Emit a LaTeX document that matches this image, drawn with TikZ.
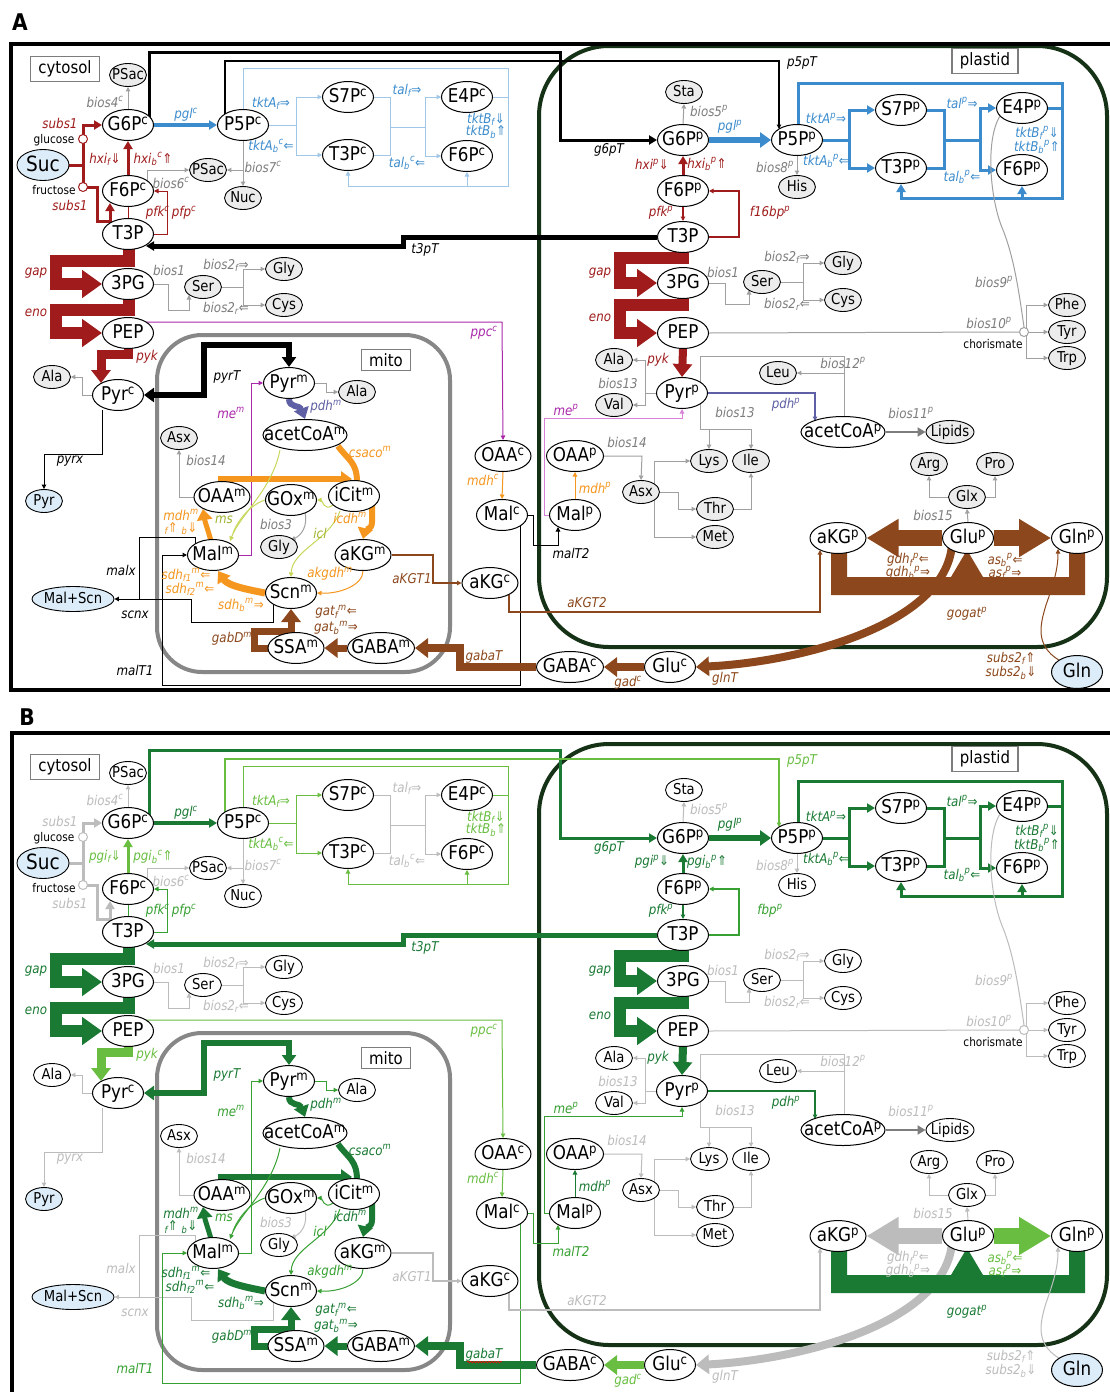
\documentclass[tikz,border=0pt]{standalone}
\usepackage{fontspec}
\setmainfont{DejaVu Sans}[FakeStretch=0.88]
\newfontfamily\arrf{DejaVu Sans}[FakeStretch=0.88]
\usetikzlibrary{arrows.meta,shapes.geometric,decorations.pathmorphing}
\pgfdeclarelayer{back}
\pgfdeclarelayer{bg}
\pgfsetlayers{back,bg,main}
\newcommand\mysup[1]{\textsuperscript{#1}}
\newcommand\mysub[1]{\textsubscript{#1}}
\newcommand\ARr{{\arrf\upshape ⇒}}
\newcommand\ARl{{\arrf\upshape ⇐}}
\newcommand\ARd{{\arrf\upshape ⇓}}
\newcommand\ARu{{\arrf\upshape ⇑}}
\definecolor{red1}{RGB}{160,28,28}
\definecolor{blu1}{RGB}{60,140,205}
\definecolor{blu2}{RGB}{160,198,232}
\definecolor{org}{RGB}{245,150,30}
\definecolor{brn}{RGB}{140,72,28}
\definecolor{pur}{RGB}{170,40,170}
\definecolor{pnk}{RGB}{215,130,215}
\definecolor{slt}{RGB}{95,95,165}
\definecolor{ylg}{RGB}{200,215,90}
\definecolor{ylgd}{RGB}{160,180,50}
\definecolor{gr1}{RGB}{160,160,160}
\definecolor{gr2}{RGB}{125,125,125}
\definecolor{dg}{RGB}{26,122,52}
\definecolor{mg}{RGB}{55,160,50}
\definecolor{lg}{RGB}{105,190,65}
\definecolor{lgr}{RGB}{188,188,188}
\definecolor{plg}{RGB}{22,50,22}
\definecolor{mitog}{RGB}{135,135,135}
\definecolor{extb}{RGB}{220,236,248}
\definecolor{smf}{RGB}{236,236,236}
\tikzset{
 met/.style={ellipse,draw,line width=1pt,fill=white,inner xsep=-40pt,inner ysep=-20pt,
   minimum width=51pt,minimum height=31pt,text height=14pt,text depth=3pt,font=\fontsize{19}{19}\selectfont},
 sm/.style={ellipse,draw,line width=0.9pt,fill=Csm,inner xsep=-30pt,inner ysep=-20pt,
   minimum width=37pt,minimum height=23pt,text height=11pt,text depth=2.5pt,font=\fontsize{15}{15}\selectfont},
 ext/.style={sm,fill=extb},
 cir/.style={circle,draw,line width=1pt,fill=white,inner sep=0pt,minimum size=9pt},
 lab/.style={inner sep=0pt,font=\fontsize{13.5}{13.5}\selectfont\itshape},
 tbox/.style={draw=gr2,line width=1.2pt,fill=white,inner xsep=8pt,inner ysep=4pt,font=\fontsize{17}{17}\selectfont},
 bio/.style={draw=Cbio,line width=1pt},
 tS/.style={-{Triangle[length=4.5pt,width=4.5pt]}},
 tM/.style={-{Triangle[length=8pt,width=9pt]}},
 tT/.style={-{Triangle[length=11pt,width=15pt]}},
 tL/.style={-{Triangle[length=13pt,width=19pt]}},
 tXL/.style={-{Triangle[length=20pt,width=27pt]}},
 tXXL/.style={-{Triangle[length=32pt,width=36pt]}},
}
\newcommand\setA{%
\colorlet{Csubs}{red1}\colorlet{Chxic}{red1}\colorlet{Cpfkc}{red1}\colorlet{Cpglc}{blu1}%
\colorlet{CtktA}{blu2}\colorlet{Ctal}{blu2}\colorlet{CtktB}{blu2}\colorlet{CtktL}{blu1}\colorlet{CtalL}{blu1}%
\colorlet{Cgap}{red1}\colorlet{Cpykc}{red1}\colorlet{Ct3p}{black}\colorlet{Cg6p}{black}\colorlet{Cp5p}{black}%
\colorlet{Cpglp}{blu1}\colorlet{Cppp}{blu1}\colorlet{Chxip}{red1}\colorlet{Cpfkp}{red1}\colorlet{Cfbp}{red1}%
\colorlet{Cpykp}{red1}\colorlet{Cpdhp}{slt}\colorlet{Cmep}{pnk}\colorlet{CmepL}{pur}\colorlet{Cppc}{pur}\colorlet{Cmem}{pur}%
\colorlet{CpyrT}{black}\colorlet{Cpdhm}{slt}\colorlet{Ctca}{org}\colorlet{Cakgdh}{org}\colorlet{Cglyox}{ylg}\colorlet{CglyL}{ylgd}%
\colorlet{CakgT}{brn}\colorlet{Cgad}{brn}\colorlet{Cgaba}{brn}\colorlet{CglnT}{brn}\colorlet{Cgdh}{brn}\colorlet{Cas}{brn}%
\colorlet{Cgogat}{brn}\colorlet{Csubs2}{brn}\colorlet{Cmalx}{black}\colorlet{CmalT}{black}\colorlet{Cmdhc}{org}\colorlet{Cmdhp}{org}%
\colorlet{Calam}{gr1}\colorlet{Cbio}{gr1}\colorlet{Cbl}{gr2}\colorlet{Csm}{smf}%
\def\Lhxif{hxi\mysub{f}\ARd}\def\Lhxib{hxi\mysub{b}\mysup{c}\ARu}%
\def\Lhxip{hxi\mysup{p}\ARd}\def\Lhxipb{hxi\mysub{b}\mysup{p}\ARu}\def\Lfbp{f16bp\mysup{p}}%
\def\extra{}}
\newcommand\setB{%
\colorlet{Csubs}{lgr}\colorlet{Chxic}{lg}\colorlet{Cpfkc}{mg}\colorlet{Cpglc}{dg}%
\colorlet{CtktA}{lg}\colorlet{Ctal}{lgr}\colorlet{CtktB}{lg}\colorlet{CtktL}{lg}\colorlet{CtalL}{lgr}%
\colorlet{Cgap}{dg}\colorlet{Cpykc}{lg}\colorlet{Ct3p}{dg}\colorlet{Cg6p}{dg}\colorlet{Cp5p}{lg}%
\colorlet{Cpglp}{dg}\colorlet{Cppp}{dg}\colorlet{Chxip}{dg}\colorlet{Cpfkp}{dg}\colorlet{Cfbp}{mg}%
\colorlet{Cpykp}{dg}\colorlet{Cpdhp}{dg}\colorlet{Cmep}{mg}\colorlet{CmepL}{mg}\colorlet{Cppc}{lg}\colorlet{Cmem}{mg}%
\colorlet{CpyrT}{dg}\colorlet{Cpdhm}{dg}\colorlet{Ctca}{dg}\colorlet{Cakgdh}{mg}\colorlet{Cglyox}{mg}\colorlet{CglyL}{mg}%
\colorlet{CakgT}{lgr}\colorlet{Cgad}{lg}\colorlet{Cgaba}{dg}\colorlet{CglnT}{lgr}\colorlet{Cgdh}{lgr}\colorlet{Cas}{lg}%
\colorlet{Cgogat}{dg}\colorlet{Csubs2}{lgr}\colorlet{Cmalx}{lgr}\colorlet{CmalT}{mg}\colorlet{Cmdhc}{lg}\colorlet{Cmdhp}{dg}%
\colorlet{Calam}{mg}\colorlet{Cbio}{lgr}\colorlet{Cbl}{lgr}\colorlet{Csm}{white}%
\def\Lhxif{pgi\mysub{f}\ARd}\def\Lhxib{pgi\mysub{b}\mysup{c}\ARu}%
\def\Lhxip{pgi\mysup{p}\ARd}\def\Lhxipb{pgi\mysub{b}\mysup{p}\ARu}\def\Lfbp{fbp\mysup{p}}%
\def\extra{\draw[red,line width=0.6pt,decorate,decoration={snake,amplitude=0.8pt,segment length=3pt}] (467,664) -- (502,664);}}
\newcommand\drawpanel[1]{%
\def\PX{#1}%
\begin{pgfonlayer}{back}
 \draw[line width=4pt,draw=plg,rounded corners=70pt] (539,46) rectangle (1107,647);
 \draw[line width=4pt,draw=mitog,rounded corners=45pt] (157,335) rectangle (450,672);
\end{pgfonlayer}
\node[tbox] (\PX-cyt) at (65,69) {cytosol};
\node[tbox] (\PX-pla) at (985,61) {plastid};
\node[tbox] (\PX-mit) at (386,360) {mito};
% cytosol metabolites
\node[met] (\PX-g6pc) at (128,125) {G6P\mysup{c}};
\node[met] (\PX-f6pc) at (128,191) {F6P\mysup{c}};
\node[met] (\PX-t3pA) at (128,234) {T3P};
\node[ext,minimum width=52pt,minimum height=31pt,text height=15pt,text depth=3pt,font=\fontsize{21}{21}\selectfont] (\PX-suc) at (43,165) {Suc};
\node[met] (\PX-p5pc) at (243,125) {P5P\mysup{c}};
\node[met] (\PX-s7pc) at (348,97) {S7P\mysup{c}};
\node[met] (\PX-t3pc) at (348,155) {T3P\mysup{c}};
\node[met] (\PX-e4pc) at (467,97) {E4P\mysup{c}};
\node[met] (\PX-f6pcb) at (467,156) {F6P\mysup{c}};
\node[met] (\PX-pgc) at (128,284) {3PG};
\node[met] (\PX-pepc) at (128,333) {PEP};
\node[met] (\PX-pyrc) at (118,395) {Pyr\mysup{c}};
\node[sm] (\PX-psa) at (128,75) {PSac};
\node[sm] (\PX-psb) at (208,170) {PSac};
\node[sm] (\PX-nuc) at (243,198) {Nuc};
\node[sm] (\PX-glyc) at (284,269) {Gly};
\node[sm] (\PX-serc) at (203,287) {Ser};
\node[sm] (\PX-cysc) at (284,305) {Cys};
\node[sm] (\PX-alac) at (52,377) {Ala};
\node[ext] (\PX-pyrx) at (44,501) {Pyr};
\node[ext,minimum width=82pt,minimum height=25pt] (\PX-msc) at (73,599) {Mal+Scn};
\node[cir,draw=Csubs] (\PX-cglc) at (83,139) {};
\node[cir,draw=Csubs] (\PX-cfru) at (83,187) {};
% mito
\node[met] (\PX-pyrm) at (289,383) {Pyr\mysup{m}};
\node[sm] (\PX-alam) at (357,392) {Ala};
\node[met,minimum width=84pt] (\PX-acm) at (305,435) {acetCoA\mysup{m}};
\node[sm] (\PX-asxm) at (179,438) {Asx};
\node[met,minimum width=56pt] (\PX-oaam) at (222,497) {OAA\mysup{m}};
\node[met] (\PX-goxm) at (291,500) {GOx\mysup{m}};
\node[met] (\PX-icm) at (354,496) {iCit\mysup{m}};
\node[sm] (\PX-glym) at (279,547) {Gly};
\node[met] (\PX-malm) at (213,555) {Mal\mysup{m}};
\node[met,minimum width=56pt] (\PX-akgm) at (363,555) {aKG\mysup{m}};
\node[met] (\PX-scnm) at (291,593) {Scn\mysup{m}};
\node[met,minimum width=56pt] (\PX-ssam) at (296,648) {SSA\mysup{m}};
\node[met,minimum width=67pt] (\PX-gabam) at (381,648) {GABA\mysup{m}};
% cytosol right
\node[met,minimum width=67pt] (\PX-gabac) at (570,667) {GABA\mysup{c}};
\node[met] (\PX-gluc) at (670,667) {Glu\mysup{c}};
\node[met,minimum width=56pt] (\PX-oaac) at (503,456) {OAA\mysup{c}};
\node[met] (\PX-malc) at (502,515) {Mal\mysup{c}};
\node[met,minimum width=56pt] (\PX-akgc) at (490,583) {aKG\mysup{c}};
% plastid
\node[met,minimum width=57pt] (\PX-oaap) at (575,456) {OAA\mysup{p}};
\node[met] (\PX-malp) at (575,515) {Mal\mysup{p}};
\node[met] (\PX-g6pp) at (683,140) {G6P\mysup{p}};
\node[met] (\PX-p5pp) at (797,140) {P5P\mysup{p}};
\node[met] (\PX-s7pp) at (901,110) {S7P\mysup{p}};
\node[met] (\PX-t3pp) at (901,168) {T3P\mysup{p}};
\node[met] (\PX-e4pp) at (1022,108) {E4P\mysup{p}};
\node[met] (\PX-f6ppb) at (1022,170) {F6P\mysup{p}};
\node[met] (\PX-f6pp) at (683,191) {F6P\mysup{p}};
\node[met] (\PX-t3pB) at (683,237) {T3P};
\node[met] (\PX-pgp) at (683,283) {3PG};
\node[met] (\PX-pepp) at (683,333) {PEP};
\node[met] (\PX-pyrp) at (682,393) {Pyr\mysup{p}};
\node[met,minimum width=84pt] (\PX-acp) at (843,432) {acetCoA\mysup{p}};
\node[met,minimum width=56pt] (\PX-akgp) at (838,538) {aKG\mysup{p}};
\node[met] (\PX-glup) at (968,538) {Glu\mysup{p}};
\node[met] (\PX-glnp) at (1077,538) {Gln\mysup{p}};
\node[met,fill=extb,minimum height=33pt] (\PX-gln) at (1077,672) {Gln};
\node[sm] (\PX-sta) at (684,92) {Sta};
\node[sm] (\PX-his) at (797,187) {His};
\node[sm] (\PX-glyp) at (843,263) {Gly};
\node[sm] (\PX-serp) at (762,282) {Ser};
\node[sm] (\PX-cysp) at (843,300) {Cys};
\node[sm] (\PX-alap) at (614,360) {Ala};
\node[sm] (\PX-valp) at (614,405) {Val};
\node[sm] (\PX-leu) at (778,373) {Leu};
\node[sm,minimum width=48pt] (\PX-lipids) at (950,432) {Lipids};
\node[sm] (\PX-lys) at (709,461) {Lys};
\node[sm] (\PX-ile) at (751,461) {Ile};
\node[sm] (\PX-asxp) at (641,492) {Asx};
\node[sm] (\PX-thr) at (715,509) {Thr};
\node[sm] (\PX-metp) at (715,537) {Met};
\node[sm] (\PX-arg) at (929,464) {Arg};
\node[sm] (\PX-pro) at (995,464) {Pro};
\node[sm] (\PX-glx) at (967,497) {Glx};
\node[sm] (\PX-phe) at (1067,305) {Phe};
\node[sm] (\PX-tyr) at (1067,332) {Tyr};
\node[sm] (\PX-trp) at (1067,358) {Trp};
\node[cir,draw=Cbio] (\PX-chor) at (1024,332) {};
% labels
\node[lab,text=Csubs] (\PX-l1) at (60,123) {subs1};
\node[inner sep=0pt,font=\fontsize{12}{12}\selectfont] (\PX-l2) at (54,140) {glucose};
\node[inner sep=0pt,font=\fontsize{12}{12}\selectfont] (\PX-l3) at (54,190) {fructose};
\node[lab,text=Csubs] (\PX-l4) at (70,205) {subs1};
\node[lab,text=Chxic] (\PX-l5) at (105,159) {\Lhxif};
\node[lab,text=Chxic] (\PX-l6) at (153,159) {\Lhxib};
\node[lab,text=Cbl] (\PX-l7) at (105,102) {bios4\mysup{c}};
\node[lab,text=Cpglc] (\PX-l8) at (186,115) {pgl\mysup{c}};
\node[lab,text=CtktL] (\PX-l9) at (271,103) {tktA\mysub{f}\ARr};
\node[lab,text=CtktL] (\PX-l10) at (271,146) {tktA\mysub{b}\mysup{c}\ARl};
\node[lab,text=Cbl] (\PX-l11) at (263,167) {bios7\mysup{c}};
\node[lab,text=Cbl] (\PX-l12) at (171,183) {bios6\mysup{c}};
\node[lab,text=Cpfkc] (\PX-l13) at (171,213) {pfk\mysup{c}\,pfp\mysup{c}};
\node[lab,text=CtalL] (\PX-l14) at (407,90) {tal\mysub{f}\ARr};
\node[lab,text=CtalL] (\PX-l15) at (407,163) {tal\mysub{b}\mysup{c}\ARl};
\node[lab,text=CtktL] (\PX-l16) at (486,119) {tktB\mysub{f}\ARd};
\node[lab,text=CtktL] (\PX-l17) at (486,132) {tktB\mysub{b}\ARu};
\node[lab,text=Cgap] (\PX-l18) at (36,273) {gap};
\node[lab,text=Cgap] (\PX-l19) at (36,313) {eno};
\node[lab,text=Cbl] (\PX-l20) at (169,270) {bios1};
\node[lab,text=Cbl] (\PX-l21) at (226,265) {bios2\mysub{f}\ARr};
\node[lab,text=Cbl] (\PX-l22) at (226,308) {bios2\mysub{r}\ARl};
\node[lab,text=Cpykc] (\PX-l23) at (147,357) {pyk};
\node[lab,text=Ct3p] (\PX-l24) at (425,250) {t3pT};
\node[lab,text=Cg6p] (\PX-l25) at (609,150) {g6pT};
\node[lab,text=Cp5p] (\PX-l26) at (802,63) {p5pT};
\node[lab,text=Cppc] (\PX-l27) at (484,333) {ppc\mysup{c}};
\node[lab,text=CpyrT] (\PX-l28) at (227,377) {pyrT};
\node[lab,text=Cmem] (\PX-l29) at (231,413) {me\mysup{m}};
\node[lab,text=Cpdhm] (\PX-l30) at (326,407) {pdh\mysup{m}};
\node[lab,text=Ctca] (\PX-l31) at (370,452) {csaco\mysup{m}};
\node[lab,text=Cbl] (\PX-l32) at (206,460) {bios14};
\node[lab,text=Ctca] (\PX-l33) at (181,515) {mdh\mysup{m}};
\node[lab,text=Ctca] (\PX-l34) at (181,529) {\mysub{f}\ARu\ \mysub{b}\ARd};
\node[lab,text=CglyL] (\PX-l35) at (224,520) {ms};
\node[lab,text=Cbl] (\PX-l36) at (276,524) {bios3};
\node[lab,text=Ctca] (\PX-l37) at (350,518) {icdh\mysup{m}};
\node[lab,text=CglyL] (\PX-l38) at (320,533) {icl};
\node[lab,text=Cmalx] (\PX-l39) at (121,570) {malx};
\node[lab,text=Ctca] (\PX-l40) at (186,575) {sdh\mysub{f1}\mysup{m}\ARl};
\node[lab,text=Ctca] (\PX-l41) at (190,589) {sdh\mysub{f2}\mysup{m}\ARl};
\node[lab,text=Cakgdh] (\PX-l42) at (330,574) {akgdh\mysup{m}};
\node[lab,text=Ctca] (\PX-l43) at (241,605) {sdh\mysub{b}\mysup{m}\ARr};
\node[lab,text=Cmalx] (\PX-l44) at (135,615) {scnx};
\node[lab,text=Cgaba] (\PX-l45) at (336,612) {gat\mysub{f}\mysup{m}\ARl};
\node[lab,text=Cgaba] (\PX-l46) at (336,628) {gat\mysub{b}\mysup{m}\ARr};
\node[lab,text=Cgaba] (\PX-l47) at (232,639) {gabD\mysup{m}};
\node[lab,text=Cgaba] (\PX-l48) at (484,657) {gabaT};
\node[lab,text=CmalT] (\PX-l49) at (135,670) {malT1};
\node[lab,text=Cmalx] (\PX-l50) at (70,461) {pyrx};
\node[lab,text=Cmdhc] (\PX-l51) at (483,480) {mdh\mysup{c}};
\node[lab,text=CakgT] (\PX-l52) at (412,579) {aKGT1};
\node[lab,text=CakgT] (\PX-l53) at (587,603) {aKGT2};
\node[lab,text=Cmdhp] (\PX-l54) at (595,488) {mdh\mysup{p}};
\node[lab,text=CmalT] (\PX-l55) at (571,553) {malT2};
\node[lab,text=Cbl] (\PX-l56) at (709,111) {bios5\mysup{p}};
\node[lab,text=Cpglp] (\PX-l57) at (730,127) {pgl\mysup{p}};
\node[lab,text=Chxip] (\PX-l58) at (652,164) {\Lhxip};
\node[lab,text=Chxip] (\PX-l59) at (707,164) {\Lhxipb};
\node[lab,text=Cpfkp] (\PX-l60) at (661,213) {pfk\mysup{p}};
\node[lab,text=Cfbp] (\PX-l61) at (770,213) {\Lfbp};
\node[lab,text=Cbl] (\PX-l62) at (775,167) {bios8\mysup{p}};
\node[lab,text=Cppp] (\PX-l63) at (826,118) {tktA\mysup{p}\ARr};
\node[lab,text=Cppp] (\PX-l64) at (826,161) {tktA\mysub{b}\mysup{p}\ARl};
\node[lab,text=Cppp] (\PX-l65) at (962,103) {tal\mysup{p}\ARr};
\node[lab,text=Cppp] (\PX-l66) at (962,177) {tal\mysub{b}\mysup{p}\ARl};
\node[lab,text=Cppp] (\PX-l67) at (1037,133) {tktB\mysub{f}\mysup{p}\ARd};
\node[lab,text=Cppp] (\PX-l68) at (1037,147) {tktB\mysub{b}\mysup{p}\ARu};
\node[lab,text=Cgap] (\PX-l69) at (600,273) {gap};
\node[lab,text=Cgap] (\PX-l70) at (600,318) {eno};
\node[lab,text=Cbl] (\PX-l71) at (723,272) {bios1};
\node[lab,text=Cbl] (\PX-l72) at (787,257) {bios2\mysub{f}\ARr};
\node[lab,text=Cbl] (\PX-l73) at (787,304) {bios2\mysub{r}\ARl};
\node[lab,text=Cpykp] (\PX-l74) at (658,360) {pyk};
\node[lab,text=Cbl] (\PX-l75) at (618,383) {bios13};
\node[lab,text=Cbl] (\PX-l76) at (735,412) {bios13};
\node[lab,text=CmepL] (\PX-l77) at (566,410) {me\mysup{p}};
\node[lab,text=Cpdhp] (\PX-l78) at (786,405) {pdh\mysup{p}};
\node[lab,text=Cbl] (\PX-l79) at (843,363) {bios12\mysup{p}};
\node[lab,text=Cbl] (\PX-l80) at (911,413) {bios11\mysup{p}};
\node[lab,text=Cbl] (\PX-l81) at (627,442) {bios14};
\node[lab,text=Cbl] (\PX-l82) at (933,515) {bios15};
\node[lab,text=Cbl] (\PX-l83) at (994,282) {bios9\mysup{p}};
\node[lab,text=Cbl] (\PX-l84) at (989,323) {bios10\mysup{p}};
\node[inner sep=0pt,font=\fontsize{12}{12}\selectfont] (\PX-l85) at (993,344) {chorismate};
\node[lab,text=Cgdh] (\PX-l86) at (908,560) {gdh\mysub{f}\mysup{p}\ARl};
\node[lab,text=Cgdh] (\PX-l87) at (908,573) {gdh\mysub{b}\mysup{p}\ARr};
\node[lab,text=Cas] (\PX-l88) at (1005,560) {as\mysub{b}\mysup{p}\ARl};
\node[lab,text=Cas] (\PX-l89) at (1005,573) {as\mysub{f}\mysup{p}\ARr};
\node[lab,text=Cgogat] (\PX-l90) at (967,614) {gogat\mysup{p}};
\node[lab,text=Cgad] (\PX-l91) at (628,683) {gad\mysup{c}};
\node[lab,text=CglnT] (\PX-l92) at (725,679) {glnT};
\node[lab,text=Csubs2] (\PX-l93) at (1011,658) {subs2\mysub{f}\ARu};
\node[lab,text=Csubs2] (\PX-l94) at (1011,673) {subs2\mysub{b}\ARd};
\extra
% edges
\begin{pgfonlayer}{bg}
 % subs1
 \draw[draw=Csubs,line width=3pt] (\PX-suc.east) -- (83,165);
 \draw[draw=Csubs,line width=3pt,tM] (83,187) -- (83,125) -- (\PX-g6pc.west);
 \draw[draw=Csubs,line width=3pt,tM] (83,187) -- (97,187) -- (97,221) -- (110,221) -- (110,203);
 \draw[draw=Chxic,line width=3pt,tM] (\PX-f6pc.north) -- (\PX-g6pc.south);
 \draw[draw=Cpfkc,line width=1pt] (\PX-t3pA.north) -- (\PX-f6pc.south);
 \draw[draw=Cpfkc,line width=1pt,tS] (\PX-t3pA.east) -- (167,234) -- (167,191) -- (\PX-f6pc.east);
 \draw[bio,tS] (\PX-g6pc.north) -- (\PX-psa.south);
 \draw[bio,tS] (147,181) -- (147,170) -- (\PX-psb.west);
 \draw[bio,tS] (\PX-p5pc.south) -- (\PX-nuc.north);
 \draw[bio,tS] (243,170) -- (\PX-psb.east);
 \draw[draw=Cpglc,line width=3.5pt,tM] (\PX-g6pc.east) -- (\PX-p5pc.west);
 % cytosol PPP
 \draw[draw=CtktA,line width=1pt] (\PX-p5pc.east) -- (296,125);
 \draw[draw=CtktA,line width=1pt,tS] (296,125) |- (\PX-s7pc.west);
 \draw[draw=CtktA,line width=1pt,tS] (296,125) |- (\PX-t3pc.west);
 \draw[draw=Ctal,line width=1pt] (\PX-s7pc.east) -| (390,155) -- (\PX-t3pc.east);
 \draw[draw=Ctal,line width=1pt] (390,127) -- (425,127);
 \draw[draw=Ctal,line width=1pt,tS] (425,127) |- (\PX-e4pc.west);
 \draw[draw=Ctal,line width=1pt,tS] (425,127) |- (\PX-f6pcb.west);
 \draw[draw=CtktB,line width=1pt] (\PX-e4pc.east) -- (508,97);
 \draw[draw=CtktB,line width=1pt,tS] (\PX-p5pc.north) -- (243,68) -- (508,68) -- (508,186) -- (348,186) -- (\PX-t3pc.south);
 \draw[draw=CtktB,line width=1pt,tS] (467,186) -- (\PX-f6pcb.south);
 % transporters
 \draw[draw=Cg6p,line width=3pt,tM] (149,120) -- (149,52) -- (560,52) -- (560,140) -- (\PX-g6pp.west);
 \draw[draw=Cp5p,line width=1.2pt,tS] (225,120) -- (225,61) -- (779,61) -- (779,129);
 \draw[draw=Ct3p,line width=5pt,tM] (\PX-t3pB.west) -- (403,237) -- (403,246) -- (146,246);
 % glycolysis
 \draw[draw=Cgap,line width=12pt,tXL] (129,240) -- (129,261) -- (56,261) -- (56,284) -- (\PX-pgc.west);
 \draw[draw=Cgap,line width=12pt,tXL] (129,290) -- (129,310) -- (56,310) -- (56,333) -- (\PX-pepc.west);
 \draw[draw=Cpykc,line width=9pt,tL] (128,340) -- (128,354) -- (101,354) -- (101,383);
 \draw[draw=Cgap,line width=12pt,tXL] (683,243) -- (683,258) -- (620,258) -- (620,283) -- (\PX-pgp.west);
 \draw[draw=Cgap,line width=12pt,tXL] (683,292) -- (683,305) -- (620,305) -- (620,333) -- (\PX-pepp.west);
 \draw[draw=Cpykp,line width=8pt,tL] (\PX-pepp.south) -- (\PX-pyrp.north);
 % bios 1/2
 \draw[bio,tS] (\PX-pgc.east) -- (168,284) -- (168,310) -- (189,310) -- (189,295);
 \draw[bio] (\PX-serc.east) -- (243,287);
 \draw[bio,tS] (243,287) |- (\PX-glyc.west);
 \draw[bio,tS] (243,287) |- (\PX-cysc.west);
 \draw[bio,tS] (\PX-pgp.east) -- (725,283) -- (725,304) -- (749,304) -- (749,290);
 \draw[bio] (\PX-serp.east) -- (803,282);
 \draw[bio,tS] (803,282) |- (\PX-glyp.west);
 \draw[bio,tS] (803,282) |- (\PX-cysp.west);
 \draw[bio,tS] (\PX-pyrc.west) -- (82,395) |- (\PX-alac.east);
 \draw[draw=Cmalx,line width=1pt,tS] (102,410) -- (102,454) -- (44,454) -- (\PX-pyrx.north);
 \draw[draw=Cppc,line width=1pt,tS] (146,322) -- (502,322) -- (\PX-oaac.north);
 % mito
 \draw[draw=CpyrT,line width=6pt,{Triangle[length=10pt,width=14pt]}-{Triangle[length=10pt,width=14pt]}] (\PX-pyrc.east) -- (204,395) -- (204,345) -- (289,345) -- (\PX-pyrm.north);
 \draw[draw=Calam,line width=1pt,tS] (\PX-pyrm.east) -- (326,383) |- (\PX-alam.west);
 \draw[draw=Cmem,line width=1pt,tS] (\PX-malm.east) -- (251,555) -- (251,383) -- (\PX-pyrm.west);
 \draw[draw=Cpdhm,line width=6pt,tT] (\PX-pyrm.south) .. controls (289,408) and (300,405) .. (\PX-acm.north);
 \draw[draw=Ctca,line width=6pt] (338,446) .. controls (348,460) and (357,462) .. (357,482);
 \draw[draw=Ctca,line width=6pt,tT] (221,486) -- (221,479) -- (352,479);
 \draw[draw=Ctca,line width=6pt,tT] (372,505) -- (372,522) .. controls (372,530) and (365,530) .. (\PX-akgm.north);
 \draw[draw=Ctca,line width=7pt,tT] (\PX-scnm.west) .. controls (250,590) and (228,586) .. (218,571);
 \draw[draw=Ctca,line width=5pt,tT] (211,541) .. controls (208,530) and (205,522) .. (203,509);
 \draw[draw=Cakgdh,line width=1pt,tS] (\PX-akgm.south) .. controls (363,585) and (340,594) .. (\PX-scnm.east);
 \draw[draw=Cglyox,line width=1pt,tS] (280,450) .. controls (272,490) and (240,515) .. (230,541);
 \draw[draw=Cglyox,line width=1pt] (\PX-goxm.west) .. controls (250,505) and (238,520) .. (233,533);
 \draw[draw=Cglyox,line width=1pt,tS] (333,505) .. controls (324,512) and (322,500) .. (\PX-goxm.east);
 \draw[draw=Cglyox,line width=1pt,tS] (340,511) .. controls (330,540) and (292,550) .. (\PX-scnm.north);
 \draw[bio,tS] (305,512) .. controls (308,525) and (302,535) .. (291,540);
 \draw[bio,tS] (\PX-oaam.west) -- (179,497) -- (\PX-asxm.south);
 \draw[draw=Cmalx,line width=1pt,tS] (195,544) -- (195,537) -- (139,537) -- (139,599) -- (\PX-msc.east);
 \draw[draw=Cmalx,line width=1pt] (139,599) -- (191,599) -- (191,622) -- (273,622) -- (273,604);
 \draw[draw=CmalT,line width=1pt,tS] (520,526) -- (520,685) -- (162,685) -- (162,555) -- (\PX-malm.west);
 \draw[draw=CmalT,line width=1pt,tS] (\PX-malc.east) -- (533,515) -- (533,545) -- (558,545) -- (558,527);
 \draw[draw=Cmdhc,line width=1pt,tS] (\PX-oaac.south) -- (\PX-malc.north);
 \draw[draw=Cmdhp,line width=1pt,tS] (\PX-malp.north) -- (\PX-oaap.south);
 \draw[draw=Cmep,line width=1pt,tS] (\PX-malp.west) -- (544,515) -- (544,418) -- (682,418) -- (\PX-pyrp.south);
 \draw[draw=CakgT,line width=1.5pt,tS] (\PX-akgm.east) -- (433,555) |- (\PX-akgc.west);
 \draw[draw=CakgT,line width=1.5pt,tS] (509,595) -- (509,612) -- (820,612) -- (820,550);
 % GABA shunt
 \draw[draw=Cgaba,line width=8pt,tL] (\PX-gabac.west) -- (460,667) -- (460,648) -- (\PX-gabam.east);
 \draw[draw=Cgad,line width=8pt,tL] (\PX-gluc.west) -- (\PX-gabac.east);
 \draw[draw=Cgaba,line width=7pt,tL] (\PX-gabam.west) -- (\PX-ssam.east);
 \draw[draw=Cgaba,line width=7pt,tL] (\PX-ssam.west) -- (254,648) -- (254,631) -- (291,631) -- (\PX-scnm.south);
 \draw[draw=CglnT,line width=8pt,tL] (952,545) .. controls (945,625) and (800,662) .. (\PX-gluc.east);
 \draw[draw=Cgdh,line width=16pt,tXXL] (\PX-glup.west) -- (\PX-akgp.east);
 \draw[draw=Cas,line width=16pt,tXXL] (\PX-glup.east) -- (\PX-glnp.west);
 \fill[Cgogat] (831,548) -- (847,548) -- (847,577) -- (951,577) -- (967,550) -- (983,577) -- (1069,577) -- (1069,548) -- (1085,548) -- (1085,595) -- (831,595) -- cycle;
 \draw[draw=Csubs2,line width=1pt,tS] (\PX-gln.north west) .. controls (1035,645) and (1040,625) .. (1046,605) .. controls (1053,585) and (1058,570) .. (1058,549);
 % plastid PPP
 \draw[draw=Cpglp,line width=6pt,tT] (\PX-g6pp.east) -- (\PX-p5pp.west);
 \draw[draw=Cppp,line width=3pt] (\PX-p5pp.east) -- (849,140);
 \draw[draw=Cppp,line width=3pt,tM] (849,140) |- (\PX-s7pp.west);
 \draw[draw=Cppp,line width=3pt,tM] (849,140) |- (\PX-t3pp.west);
 \draw[draw=Cppp,line width=3pt] (\PX-s7pp.east) -| (944,168) -- (\PX-t3pp.east);
 \draw[draw=Cppp,line width=3pt] (944,140) -- (980,140);
 \draw[draw=Cppp,line width=3pt,tM] (980,140) |- (\PX-e4pp.west);
 \draw[draw=Cppp,line width=3pt,tM] (980,140) |- (\PX-f6ppb.west);
 \draw[draw=Cppp,line width=3pt] (\PX-e4pp.east) -- (1062,108);
 \draw[draw=Cppp,line width=3pt,tM] (798,126) -- (798,83) -- (1062,83) -- (1062,198) -- (901,198) -- (\PX-t3pp.south);
 \draw[draw=Cppp,line width=3pt,tM] (1022,198) -- (\PX-f6ppb.south);
 \draw[draw=Chxip,line width=3pt,tM] (\PX-f6pp.north) -- (\PX-g6pp.south);
 \draw[draw=Cpfkp,line width=1.5pt,tS] (\PX-f6pp.south) -- (\PX-t3pB.north);
 \draw[draw=Cfbp,line width=1.2pt,tS] (\PX-t3pB.east) -- (739,237) -- (739,191) -- (\PX-f6pp.east);
 \draw[bio,tS] (\PX-g6pp.north) -- (\PX-sta.south);
 \draw[bio,tS] (\PX-p5pp.south) -- (\PX-his.north);
 % plastid amino acids
 \draw[bio] (\PX-pyrp.west) -- (645,393);
 \draw[bio,tS] (645,393) |- (\PX-alap.east);
 \draw[bio,tS] (645,393) |- (\PX-valp.east);
 \draw[bio] (700,393) -- (700,356) -- (844,356) -- (844,417);
 \draw[bio,tS] (844,373) -- (\PX-leu.east);
 \draw[bio] (700,393) -- (700,429) -- (751,429);
 \draw[bio,tS] (751,429) -- (\PX-ile.north);
 \draw[bio,tS] (709,429) -- (\PX-lys.north);
 \draw[draw=Cpdhp,line width=2pt,tS] (\PX-pyrp.east) -- (815,393) -- (815,421);
 \draw[draw=gr2,line width=2.5pt,tM] (\PX-acp.east) -- (\PX-lipids.west);
 \draw[bio,tS] (\PX-oaap.east) -- (642,456) -- (\PX-asxp.north);
 \draw[bio,tS] (654,461) -- (\PX-lys.west);
 \draw[bio,tS] (654,461) -- (654,537) -- (\PX-metp.west);
 \draw[bio,tS] (\PX-asxp.east) -- (678,492) |- (\PX-thr.west);
 \draw[bio,tS] (\PX-thr.east) -- (751,509) -- (\PX-ile.south);
 \draw[bio,tS] (\PX-glup.north) -- (\PX-glx.south);
 \draw[bio,tS] (\PX-glx.west) -| (\PX-arg.south);
 \draw[bio,tS] (\PX-glx.east) -| (\PX-pro.south);
 \draw[bio] (\PX-pepp.east) -- (\PX-chor.west);
 \draw[bio] (1000,116) .. controls (985,140) and (990,200) .. (1003,230) .. controls (1015,260) and (1020,300) .. (\PX-chor.north);
 \draw[bio] (1026,305) -- (1026,358);
 \draw[bio,tS] (1026,305) -- (\PX-phe.west);
 \draw[bio,tS] (\PX-chor.east) -- (\PX-tyr.west);
 \draw[bio,tS] (1026,358) -- (\PX-trp.west);
\end{pgfonlayer}
}
\begin{document}
\begin{tikzpicture}[x=1pt,y=-1pt]
\useasboundingbox (0,0) rectangle (1110,1392);
\begin{pgfonlayer}{back}
\fill[white] (0,0) rectangle (1110,1392);
\end{pgfonlayer}
\node[inner sep=0pt,font=\fontsize{23}{23}\selectfont\bfseries] (lblA) at (20,22) {A};
\node[inner sep=0pt,font=\fontsize{23}{23}\selectfont\bfseries] (lblB) at (27,717) {B};
\begin{scope}
 \setA
 \draw[line width=4.5pt] (11,44) rectangle (1135,690);
 \drawpanel{a}
\end{scope}
\begin{scope}[yshift=-698pt]
 \setB
 \draw[line width=4.5pt] (12,35) rectangle (1135,760);
 \drawpanel{b}
\end{scope}
\end{tikzpicture}
\end{document}
